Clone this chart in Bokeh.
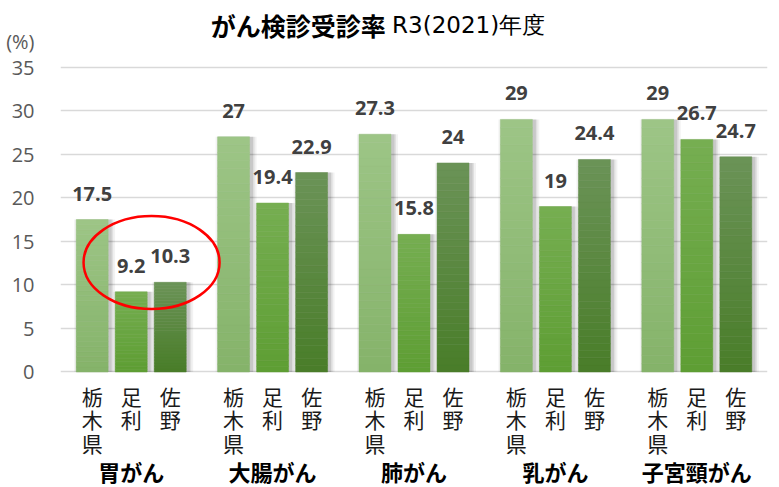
from bokeh.plotting import figure
from bokeh.models import Range1d, FixedTicker
from bokeh.core.properties import value
from bokeh.embed import file_html
from bokeh.resources import INLINE

# ---- data ----
groups = ["胃がん", "大腸がん", "肺がん", "乳がん", "子宮頸がん"]
areas = ["栃木県", "足利", "佐野"]
tochigi = [17.5, 27, 27.3, 29, 29]
ashikaga = [9.2, 19.4, 15.8, 19, 26.7]
sano = [10.3, 22.9, 24, 24.4, 24.7]
y_ticks = [0, 5, 10, 15, 20, 25, 30, 35]
title_main = "がん検診受診率"
title_sub = "R3(2021)年度"
unit_label = "(%)"

# ---- styles ----
series = [tochigi, ashikaga, sano]
top_colors = ["#9DC586", "#76AE52", "#6B9357"]
bot_colors = ["#85B36A", "#5E9E33", "#497D29"]
offsets = [-0.276, 0.0, 0.276]
bar_w = 0.226
N_SLICES = 30
JP = "Noto Sans CJK JP"
NUM = "Open Sans"
PX_X = 141.4   # pixels per x unit (for small style offsets)
UNIT_POS = 38  # where the unit label sits on the value axis


def hex2rgb(h):
    h = h.lstrip("#")
    return tuple(int(h[i:i + 2], 16) for i in (0, 2, 4))


def mix(c1, c2, t):
    a, b = hex2rgb(c1), hex2rgb(c2)
    return "#%02x%02x%02x" % tuple(round(a[i] + (b[i] - a[i]) * t) for i in range(3))


p = figure(width=779, height=487, x_range=Range1d(0, 5), y_range=Range1d(-13.26, 42.65),
           x_axis_location=None, toolbar_location=None, output_backend="svg",
           min_border_left=60, min_border_right=12, min_border_top=0, min_border_bottom=0)
p.outline_line_color = None
p.background_fill_color = "white"
p.xgrid.visible = False
p.ygrid.ticker = FixedTicker(ticks=y_ticks)
p.ygrid.grid_line_color = "#D9D9D9"
p.ygrid.grid_line_width = 1.5
p.yaxis.ticker = FixedTicker(ticks=y_ticks + [UNIT_POS])
p.yaxis.major_label_overrides = {UNIT_POS: unit_label}
p.yaxis.axis_line_color = None
p.yaxis.major_tick_line_color = None
p.yaxis.minor_tick_line_color = None
p.yaxis.major_label_standoff = 20
p.yaxis.major_label_text_font = NUM
p.yaxis.major_label_text_font_size = "20px"
p.yaxis.major_label_text_color = "#595959"

# soft shadows
for si, vals in enumerate(series):
    xs = [gi + 0.5 + offsets[si] + 2.5 / PX_X for gi in range(len(vals))]
    for extra, alpha in ((9, 0.05), (5, 0.08), (2, 0.10)):
        p.vbar(x=xs, top=vals, width=bar_w + extra / PX_X, bottom=0,
               fill_color="#000000", fill_alpha=alpha, line_color=None)

# bars with vertical gradient
for si, vals in enumerate(series):
    L, R, B, T, C = [], [], [], [], []
    for gi, v in enumerate(vals):
        xc = gi + 0.5 + offsets[si]
        for k in range(N_SLICES):
            L.append(xc - bar_w / 2)
            R.append(xc + bar_w / 2)
            B.append(v * k / N_SLICES)
            T.append(v * (k + 1) / N_SLICES)
            C.append(mix(bot_colors[si], top_colors[si], (k + 0.5) / N_SLICES))
    p.quad(left=L, right=R, bottom=B, top=T, fill_color=C, line_color=C, line_width=0.5)

# data labels
for si, vals in enumerate(series):
    xs = [gi + 0.5 + offsets[si] for gi in range(len(vals))]
    p.text(x=xs, y=vals, text=[f"{v:g}" for v in vals], text_align="center",
           text_baseline="alphabetic", y_offset=-26, text_font=value(NUM),
           text_font_style="bold", text_font_size="20px", text_color="#404040")

# category labels (vertical, one character per row)
row_y = [-2.70, -5.40, -8.10]
cx, cy, ct = [], [], []
for gi in range(len(groups)):
    for si, a in enumerate(areas):
        for r, ch in enumerate(a):
            cx.append(gi + 0.5 + offsets[si])
            cy.append(row_y[r])
            ct.append(ch)
p.text(x=cx, y=cy, text=ct, text_align="center", text_baseline="middle",
       text_font=value(JP), text_font_size="21px", text_color="#1a1a1a")

# group labels
p.text(x=[gi + 0.5 for gi in range(len(groups))], y=[-11.31] * len(groups), text=groups,
       text_align="center", text_baseline="middle", text_font=value(JP),
       text_font_style="bold", text_font_size="22px", text_color="#000000")

# title
p.text(x=[2.30], y=[39.78], text=[title_main], text_align="right", text_baseline="middle",
       text_font=value(JP), text_font_style="bold", text_font_size="25px", text_color="#000000")
p.text(x=[2.345], y=[39.78], text=[title_sub], text_align="left", text_baseline="middle",
       text_font=value("DejaVu Sans"), text_font_size="23px", text_color="#000000")

# red highlight ellipse
p.ellipse(x=[0.644], y=[12.57], width=[0.962], height=[10.68], fill_color=None,
          line_color="#FF0000", line_width=2.5)

open("out.html", "w").write(file_html(p, INLINE))
